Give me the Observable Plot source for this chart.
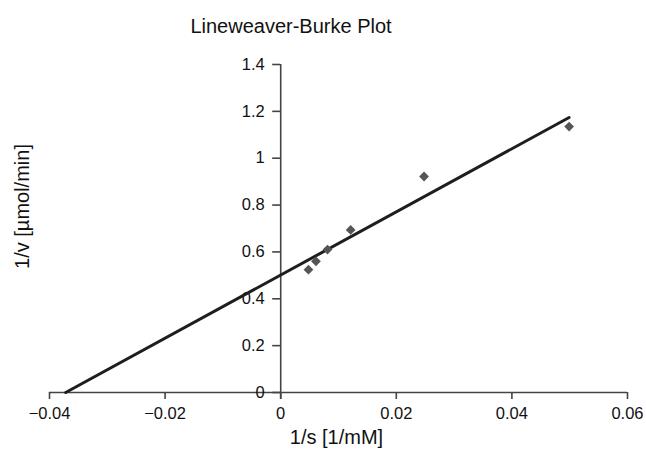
<!DOCTYPE html>
<html><head><meta charset="utf-8">
<script src="https://cdn.jsdelivr.net/npm/d3@7"></script>
<script src="https://cdn.jsdelivr.net/npm/@observablehq/plot@0.6"></script>
<style>
body{margin:0;background:#fff;font-family:"Liberation Sans",Arial,sans-serif;}
#wrap{position:relative;width:646px;height:450px;}
#title{position:absolute;left:0;top:14px;width:582px;text-align:center;font-size:20px;line-height:24px;color:#111;z-index:2;}
#wrap svg{position:absolute;left:0;top:0;}
</style></head><body><div id="wrap"><div id="title">Lineweaver-Burke Plot</div></div>
<script>
const invS = [0.0048, 0.0061, 0.0081, 0.0121, 0.0248, 0.0499];
const invV = [0.524, 0.560, 0.610, 0.694, 0.922, 1.135];
const fitX = [-0.0372, 0.0499];
const fitY = [0, 1.174];
const xTicks = [-0.04, -0.02, 0, 0.02, 0.04, 0.06];
const yTicks = [0, 0.2, 0.4, 0.6, 0.8, 1, 1.2, 1.4];
const xLabel = "1/s [1/mM]";
const yLabel = "1/v [µmol/min]";

const points = invS.map((x, i) => ({x, y: invV[i]}));
const fit = fitX.map((x, i) => ({x, y: fitY[i]}));
const fmt = d3.format("");
const axisColor = "#444";

const chart = Plot.plot({
  width: 646, height: 450,
  marginLeft: 49, marginRight: 19, marginTop: 64, marginBottom: 58,
  style: {fontFamily: '"Liberation Sans", Arial, sans-serif', fontSize: "16px", color: "#111", background: "#fff"},
  x: {type: "linear", domain: [-0.04, 0.06], axis: null},
  y: {type: "linear", domain: [0, 1.4], axis: null},
  marks: [
    Plot.ruleY([0], {stroke: axisColor, strokeWidth: 1.6}),
    Plot.ruleX([0], {stroke: axisColor, strokeWidth: 1.6, insetBottom: -7}),
    Plot.axisX(xTicks, {tickSize: 7, tickPadding: 8, stroke: axisColor, strokeWidth: 1.6, fontSize: 16.5, tickFormat: fmt, label: null}),
    Plot.ruleY(yTicks, {y: d => d, x1: 0, x2: 0, insetLeft: -8, stroke: axisColor, strokeWidth: 1.6}),
    Plot.text(yTicks, {y: d => d, x: 0, text: d => fmt(d), dx: -16, textAnchor: "end", fontSize: 16.5, fill: "#111"}),
    Plot.text([xLabel], {frameAnchor: "bottom", textAnchor: "middle", lineAnchor: "middle", dy: 45, dx: -2, fontSize: 20, fill: "#111"}),
    Plot.text([yLabel], {frameAnchor: "left", textAnchor: "middle", lineAnchor: "middle", rotate: -90, dx: -27, dy: -22, fontSize: 20, fill: "#111"}),
    Plot.line(fit, {x: "x", y: "y", stroke: "#1e1e1e", strokeWidth: 3}),
    Plot.dot(points, {x: "x", y: "y", symbol: "square", rotate: 45, r: 3.9, fill: "#555", stroke: "none"})
  ]
});
document.getElementById("wrap").appendChild(chart);
</script>
</body></html>
